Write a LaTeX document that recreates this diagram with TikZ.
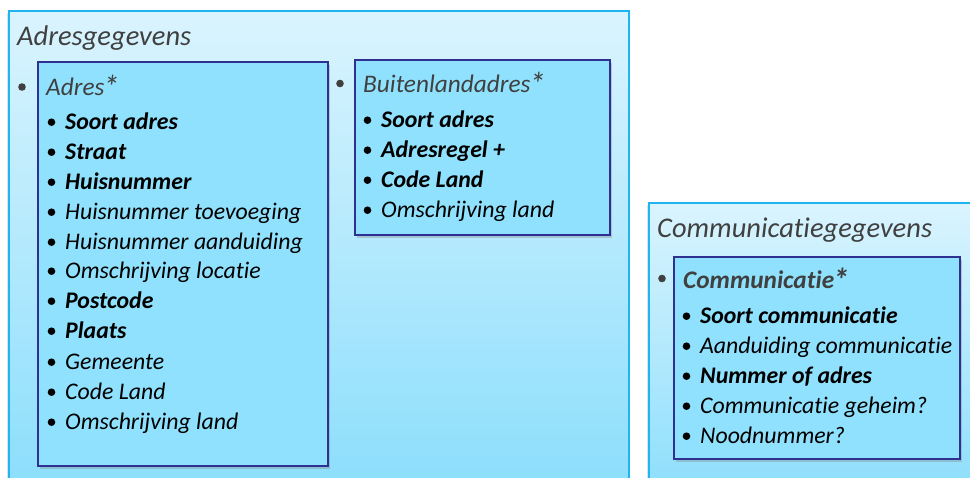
\documentclass[tikz,border=0pt]{standalone}
\usepackage{fontspec}
\setmainfont[RawFeature={-liga;-clig;-calt;-dlig}]{Carlito}
\usetikzlibrary{shadows,calc}
\definecolor{outerline}{HTML}{1FB5F0}
\definecolor{outertop}{HTML}{DAF4FE}
\definecolor{outerbot}{HTML}{88DDFC}
\definecolor{innerfill}{HTML}{8FE1FD}
\definecolor{innerline}{HTML}{2E3192}
\definecolor{titlegray}{HTML}{404040}
\newcommand\bigast{\kern-0.06em\raisebox{-0.12em}{\scalebox{1.3}{*}}}
\tikzset{
  outerbox/.style={draw=outerline, line width=1.6pt, top color=outertop, bottom color=outerbot,
    anchor=north west, inner sep=0pt,
    drop shadow={opacity=0.25, shadow xshift=-2pt, shadow yshift=-2pt}},
  innerbox/.style={draw=innerline, line width=1.5pt, fill=innerfill, anchor=north west, inner sep=0pt,
    drop shadow={opacity=0.35, shadow xshift=2pt, shadow yshift=-3pt}},
  bigtitle/.style={anchor=base west, inner sep=0pt, text=titlegray, font=\fontsize{28.5}{32}\selectfont\itshape},
  subtitle/.style={anchor=base west, inner sep=0pt, text=titlegray, font=\fontsize{25.3}{29}\selectfont\itshape},
  subkey/.style={font=\fontsize{25.3}{29}\selectfont\bfseries\itshape},
  item/.style={anchor=base west, inner sep=0pt, text=black, font=\fontsize{23.8}{27}\selectfont\itshape},
  key/.style={font=\fontsize{23.8}{27}\selectfont\bfseries\itshape},
  dot/.style={fill=black},
  graydot/.style={fill=titlegray},
}
\newcommand\bitem[5]{%
  \node[item,#4] (#1) at (#2,#3) {#5};
  \fill[dot] ($(#1.base west)+(-13.5,-6.8)$) circle[radius=3.8pt];}
\begin{document}
\begin{tikzpicture}[x=1pt,y=-1pt]
\useasboundingbox (0,0) rectangle (970,477);
\clip (0,0) rectangle (970,477);
% outer groups
\node[outerbox, minimum width=620pt, minimum height=500pt] (adresgeg) at (8,10) {};
\node[outerbox, minimum width=340pt, minimum height=310pt] (commgeg) at (648,202) {};
\node[bigtitle] (adresgegT) at (17,45) {Adresgegevens};
\node[bigtitle] (commgegT) at (657,237) {Communicatiegegevens};
% inner boxes
\node[innerbox, minimum width=290pt, minimum height=404pt] (adres) at (37,61) {};
\node[innerbox, minimum width=255pt, minimum height=175pt] (buiten) at (354,59) {};
\node[innerbox, minimum width=286pt, minimum height=202pt] (comm) at (673,256) {};
% titles
\node[subtitle] (adresT) at (46,95) {Adres\bigast};
\fill[graydot] ($(adresT.base west)+(-24,-8)$) circle[radius=3.8pt];
\node[subtitle] (buitenT) at (363,92) {Buitenlandadres\bigast};
\fill[graydot] ($(buitenT.base west)+(-23,-8.5)$) circle[radius=3.8pt];
\node[subtitle, subkey] (commT) at (683,288) {Communicatie\bigast};
\fill[graydot] ($(commT.base west)+(-21,-9.5)$) circle[radius=3.8pt];
% Adres items
\bitem{a1}{65}{129}{key}{Soort adres}
\bitem{a2}{65}{159}{key}{Straat}
\bitem{a3}{65}{189}{key}{Huisnummer}
\bitem{a4}{65}{219}{}{Huisnummer toevoeging}
\bitem{a5}{65}{249}{}{Huisnummer aanduiding}
\bitem{a6}{65}{278}{}{Omschrijving locatie}
\bitem{a7}{65}{308}{key}{Postcode}
\bitem{a8}{65}{338}{key}{Plaats}
\bitem{a9}{65}{369}{}{Gemeente}
\bitem{a10}{65}{399}{}{Code Land}
\bitem{a11}{65}{429}{}{Omschrijving land}
% Buitenland items
\bitem{b1}{381}{127}{key}{Soort adres}
\bitem{b2}{381}{157}{key}{Adresregel +}
\bitem{b3}{381}{187}{key}{Code Land}
\bitem{b4}{381}{217}{}{Omschrijving land}
% Communicatie items
\bitem{c1}{700}{323}{key}{Soort communicatie}
\bitem{c2}{700}{353}{}{Aanduiding communicatie}
\bitem{c3}{700}{383}{key}{Nummer of adres}
\bitem{c4}{700}{413}{}{Communicatie geheim?}
\bitem{c5}{700}{443}{}{Noodnummer?}
\end{tikzpicture}
\end{document}
